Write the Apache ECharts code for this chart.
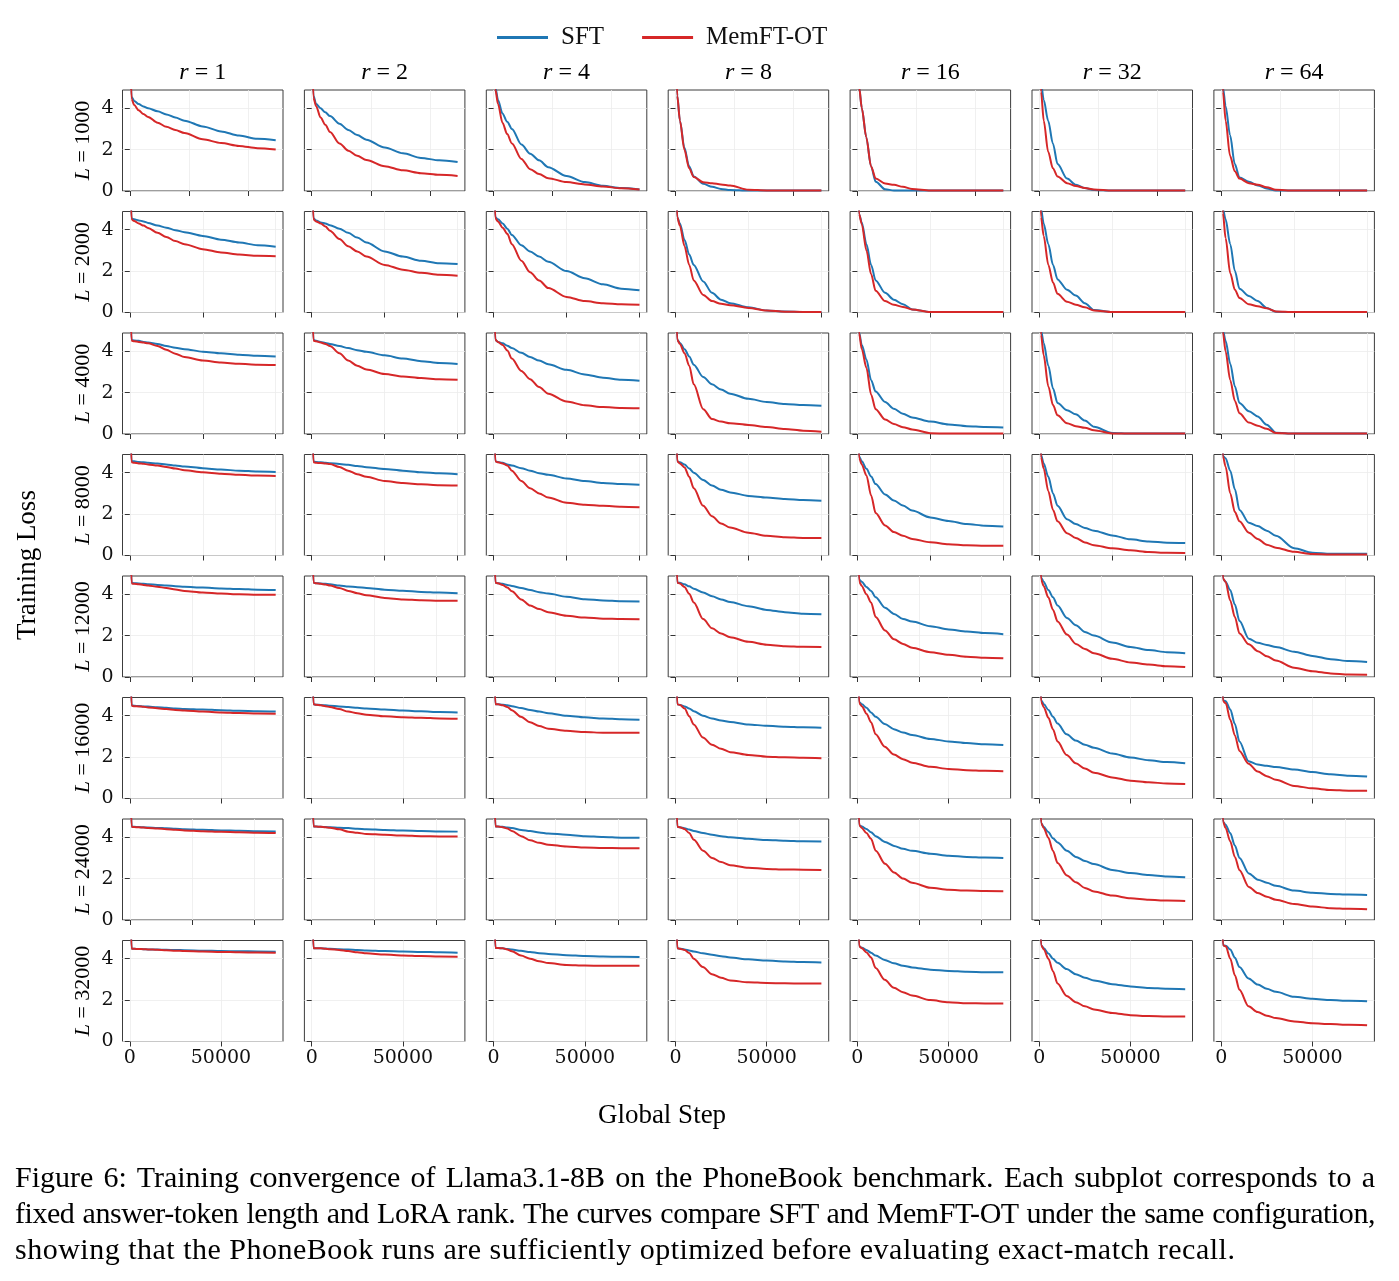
<!DOCTYPE html>
<html><head><meta charset="utf-8">
<script src="https://cdn.jsdelivr.net/npm/echarts@6/dist/echarts.min.js"></script>
<style>
html,body{margin:0;padding:0;background:#fff;}
#chart{position:absolute;left:0;top:0;width:1399px;height:1281px;}
.cap{position:absolute;left:15px;width:1360px;font-family:'Liberation Serif','Times New Roman',serif;font-size:30px;line-height:35.5px;color:#000;white-space:nowrap;}
.j{text-align:justify;text-align-last:justify;}
</style></head><body>
<div id="chart"></div>
<div class="cap j" style="top:1159px">Figure 6: Training convergence of Llama3.1-8B on the PhoneBook benchmark. Each subplot corresponds to a</div>
<div class="cap j" style="top:1195px;letter-spacing:-0.45px;word-spacing:-1px">fixed answer-token length and LoRA rank. The curves compare SFT and MemFT-OT under the same configuration,</div>
<div class="cap" style="top:1231px;letter-spacing:0.5px">showing that the PhoneBook runs are sufficiently optimized before evaluating exact-match recall.</div>
<script>
// ---------------- DATA ----------------
const ranks = ['1', '2', '4', '8', '16', '32', '64'];
const lengths = ['1000', '2000', '4000', '8000', '12000', '16000', '24000', '32000'];
const seriesNames = ['SFT', 'MemFT-OT'];
const yTicks = [0, 2, 4];
const yMax = 4.88;

// global-step sample positions (each row has its own run length)
const stepsA = [0, 600, 1500, 3000, 4600, 6200, 9400, 12400, 15400, 18500, 24700, 30900, 37000, 43200, 49400];
const stepsB = [0, 600, 1500, 3100, 4700, 6250, 9500, 12500, 15600, 18750, 25000, 31250, 37500, 43750, 50000];
const stepsC = [0, 600, 1400, 2900, 4400, 5900, 8900, 11800, 14700, 17600, 23500, 29400, 35250, 41100, 47000];
const stepsD = [0, 1000, 2500, 5000, 7500, 10000, 15000, 20000, 25000, 30000, 40000, 50000, 60000, 70000, 80000];
const xTicksA = [0, 20000, 40000];
const xTicksB = [0, 25000, 50000];
const xTicksC = [0, 20000, 40000];
const xTicksD = [0, 50000];

// rows: L = 1000 ... 32000 ; each row: 7 ranks (r = 1..64)
const sftL1000 = [
 [7.5, 4.55, 4.35, 4.2, 4.08, 4.0, 3.85, 3.7, 3.55, 3.4, 3.12, 2.88, 2.68, 2.52, 2.45],
 [7.5, 4.6, 4.2, 4.0, 3.8, 3.62, 3.25, 2.95, 2.7, 2.48, 2.1, 1.82, 1.6, 1.48, 1.4],
 [7.5, 5.0, 4.4, 3.75, 3.35, 3.0, 2.25, 1.8, 1.48, 1.15, 0.72, 0.43, 0.25, 0.14, 0.07],
 [7.5, 4.6, 3.4, 2.1, 1.2, 0.7, 0.35, 0.2, 0.1, 0.05, 0.02, 0.02, 0.02, 0.02, 0.02],
 [7.5, 5.0, 4.0, 2.6, 1.2, 0.45, 0.08, 0.03, 0.02, 0.02, 0.02, 0.02, 0.02, 0.02, 0.02],
 [7.5, 5.2, 4.4, 3.4, 2.3, 1.3, 0.6, 0.3, 0.14, 0.05, 0.02, 0.02, 0.02, 0.02, 0.02],
 [7.5, 5.0, 4.1, 2.7, 1.3, 0.65, 0.45, 0.27, 0.12, 0.03, 0.02, 0.02, 0.02, 0.02, 0.02]
];
const memL1000 = [
 [7.5, 4.45, 4.15, 3.9, 3.72, 3.58, 3.3, 3.1, 2.95, 2.8, 2.5, 2.32, 2.18, 2.07, 2.0],
 [7.5, 4.5, 4.1, 3.55, 3.2, 2.85, 2.3, 1.95, 1.7, 1.5, 1.2, 1.0, 0.86, 0.78, 0.73],
 [7.5, 4.9, 4.2, 3.3, 2.75, 2.3, 1.55, 1.05, 0.82, 0.62, 0.43, 0.32, 0.22, 0.13, 0.07],
 [7.5, 4.6, 3.4, 2.0, 1.1, 0.68, 0.42, 0.37, 0.32, 0.27, 0.06, 0.03, 0.03, 0.03, 0.03],
 [7.5, 5.0, 4.0, 2.6, 1.2, 0.6, 0.36, 0.3, 0.2, 0.1, 0.03, 0.02, 0.02, 0.02, 0.02],
 [7.5, 4.8, 3.4, 1.9, 1.1, 0.7, 0.38, 0.24, 0.14, 0.07, 0.02, 0.02, 0.02, 0.02, 0.02],
 [7.5, 4.8, 3.4, 1.7, 0.95, 0.6, 0.38, 0.3, 0.18, 0.06, 0.02, 0.02, 0.02, 0.02, 0.02]
];
const sftL2000 = [
 [7.5, 4.55, 4.5, 4.45, 4.4, 4.33, 4.2, 4.1, 3.98, 3.88, 3.7, 3.52, 3.38, 3.25, 3.18],
 [7.5, 4.55, 4.45, 4.35, 4.3, 4.22, 4.05, 3.85, 3.62, 3.38, 2.95, 2.7, 2.5, 2.38, 2.34],
 [7.5, 4.6, 4.5, 4.3, 4.05, 3.75, 3.25, 2.95, 2.7, 2.45, 2.0, 1.65, 1.36, 1.15, 1.07],
 [7.5, 4.6, 4.3, 3.5, 2.8, 2.3, 1.5, 0.95, 0.62, 0.45, 0.25, 0.1, 0.05, 0.03, 0.03],
 [7.5, 4.75, 4.35, 3.3, 2.3, 1.55, 0.95, 0.62, 0.4, 0.15, 0.03, 0.02, 0.02, 0.02, 0.02],
 [7.5, 5.0, 4.3, 3.3, 2.3, 1.6, 1.1, 0.82, 0.45, 0.12, 0.02, 0.02, 0.02, 0.02, 0.02],
 [7.5, 5.0, 4.5, 3.3, 2.0, 1.15, 0.8, 0.55, 0.22, 0.04, 0.02, 0.02, 0.02, 0.02, 0.02]
];
const memL2000 = [
 [7.5, 4.5, 4.42, 4.3, 4.2, 4.08, 3.85, 3.65, 3.45, 3.3, 3.06, 2.9, 2.8, 2.74, 2.72],
 [7.5, 4.5, 4.4, 4.3, 4.15, 3.95, 3.55, 3.2, 2.95, 2.7, 2.3, 2.07, 1.92, 1.82, 1.77],
 [7.5, 4.55, 4.4, 4.1, 3.8, 3.3, 2.5, 1.95, 1.55, 1.18, 0.75, 0.55, 0.45, 0.4, 0.37],
 [7.5, 4.6, 4.2, 3.2, 2.3, 1.55, 0.85, 0.55, 0.42, 0.35, 0.22, 0.1, 0.04, 0.03, 0.03],
 [7.5, 4.75, 4.27, 3.0, 1.85, 1.05, 0.55, 0.37, 0.27, 0.15, 0.02, 0.02, 0.02, 0.02, 0.02],
 [7.5, 4.6, 3.7, 2.3, 1.45, 0.9, 0.52, 0.38, 0.25, 0.1, 0.02, 0.02, 0.02, 0.02, 0.02],
 [7.5, 4.8, 3.6, 1.9, 1.1, 0.7, 0.4, 0.3, 0.2, 0.05, 0.02, 0.02, 0.02, 0.02, 0.02]
];
const sftL4000 = [
 [7.5, 4.55, 4.52, 4.5, 4.45, 4.42, 4.35, 4.25, 4.17, 4.1, 3.98, 3.9, 3.83, 3.78, 3.75],
 [7.5, 4.55, 4.5, 4.45, 4.4, 4.35, 4.25, 4.15, 4.05, 3.97, 3.8, 3.65, 3.52, 3.43, 3.38],
 [7.5, 4.55, 4.45, 4.38, 4.27, 4.15, 3.92, 3.72, 3.55, 3.37, 3.1, 2.88, 2.72, 2.62, 2.57],
 [7.5, 4.55, 4.4, 4.1, 3.75, 3.35, 2.75, 2.4, 2.15, 1.95, 1.7, 1.55, 1.45, 1.4, 1.37],
 [7.5, 4.9, 4.3, 3.6, 2.6, 2.05, 1.55, 1.22, 0.98, 0.8, 0.6, 0.46, 0.38, 0.34, 0.32],
 [7.5, 5.0, 4.4, 3.3, 2.2, 1.5, 1.15, 0.95, 0.65, 0.35, 0.05, 0.02, 0.02, 0.02, 0.02],
 [7.5, 5.0, 4.5, 3.4, 2.3, 1.5, 1.1, 0.85, 0.45, 0.06, 0.02, 0.02, 0.02, 0.02, 0.02]
];
const memL4000 = [
 [7.5, 4.5, 4.48, 4.45, 4.42, 4.38, 4.25, 4.07, 3.88, 3.72, 3.55, 3.45, 3.39, 3.35, 3.33],
 [7.5, 4.5, 4.48, 4.42, 4.35, 4.25, 3.9, 3.55, 3.3, 3.12, 2.9, 2.78, 2.7, 2.65, 2.62],
 [7.5, 4.55, 4.45, 4.3, 4.03, 3.65, 3.05, 2.65, 2.27, 1.95, 1.57, 1.39, 1.3, 1.26, 1.24],
 [7.5, 4.55, 4.35, 3.9, 3.3, 2.4, 1.2, 0.72, 0.6, 0.52, 0.44, 0.34, 0.24, 0.16, 0.11],
 [7.5, 4.85, 4.1, 3.2, 1.9, 1.2, 0.7, 0.48, 0.33, 0.22, 0.04, 0.02, 0.02, 0.02, 0.02],
 [7.5, 4.8, 3.8, 2.3, 1.4, 0.9, 0.52, 0.38, 0.3, 0.18, 0.03, 0.02, 0.02, 0.02, 0.02],
 [7.5, 4.9, 4.0, 2.6, 1.6, 1.0, 0.55, 0.4, 0.25, 0.05, 0.02, 0.02, 0.02, 0.02, 0.02]
];
const sftL8000 = [
 [7.5, 4.55, 4.55, 4.52, 4.5, 4.48, 4.44, 4.4, 4.35, 4.3, 4.22, 4.15, 4.1, 4.06, 4.04],
 [7.5, 4.55, 4.52, 4.5, 4.48, 4.46, 4.42, 4.38, 4.32, 4.27, 4.18, 4.1, 4.02, 3.97, 3.93],
 [7.5, 4.55, 4.52, 4.48, 4.4, 4.35, 4.22, 4.1, 3.98, 3.9, 3.72, 3.6, 3.5, 3.45, 3.42],
 [7.5, 4.55, 4.5, 4.4, 4.2, 4.0, 3.65, 3.38, 3.18, 3.05, 2.88, 2.8, 2.73, 2.68, 2.65],
 [7.5, 4.78, 4.55, 4.19, 3.82, 3.45, 2.95, 2.66, 2.42, 2.17, 1.84, 1.67, 1.52, 1.44, 1.4],
 [7.5, 4.85, 4.45, 3.8, 3.0, 2.4, 1.75, 1.52, 1.33, 1.2, 0.97, 0.78, 0.68, 0.62, 0.6],
 [7.5, 4.8, 4.7, 4.1, 3.2, 2.2, 1.58, 1.42, 1.2, 0.95, 0.35, 0.13, 0.08, 0.08, 0.08]
];
const memL8000 = [
 [7.5, 4.5, 4.48, 4.45, 4.43, 4.4, 4.35, 4.28, 4.2, 4.12, 4.02, 3.95, 3.9, 3.86, 3.84],
 [7.5, 4.5, 4.48, 4.47, 4.45, 4.42, 4.28, 4.1, 3.93, 3.8, 3.6, 3.5, 3.44, 3.4, 3.38],
 [7.5, 4.55, 4.5, 4.45, 4.35, 4.1, 3.6, 3.25, 3.0, 2.8, 2.55, 2.45, 2.4, 2.36, 2.33],
 [7.5, 4.55, 4.45, 4.25, 3.8, 3.25, 2.4, 1.9, 1.55, 1.35, 1.1, 0.95, 0.88, 0.85, 0.84],
 [7.5, 4.7, 4.4, 3.87, 2.9, 2.05, 1.45, 1.13, 0.95, 0.8, 0.64, 0.54, 0.49, 0.47, 0.47],
 [7.5, 4.75, 4.2, 3.1, 2.2, 1.65, 1.08, 0.85, 0.63, 0.5, 0.35, 0.25, 0.17, 0.13, 0.12],
 [7.5, 4.8, 4.3, 3.0, 2.1, 1.65, 1.1, 0.8, 0.52, 0.38, 0.18, 0.07, 0.05, 0.05, 0.05]
];
const sftL12000 = [
 [7.5, 4.55, 4.53, 4.52, 4.5, 4.48, 4.45, 4.42, 4.39, 4.36, 4.32, 4.28, 4.25, 4.22, 4.2],
 [7.5, 4.55, 4.53, 4.52, 4.5, 4.48, 4.42, 4.37, 4.34, 4.3, 4.22, 4.17, 4.11, 4.08, 4.05],
 [7.5, 4.55, 4.53, 4.5, 4.45, 4.4, 4.3, 4.2, 4.1, 4.03, 3.88, 3.76, 3.7, 3.66, 3.65],
 [7.5, 4.55, 4.55, 4.48, 4.38, 4.27, 4.08, 3.9, 3.75, 3.62, 3.42, 3.24, 3.13, 3.06, 3.03],
 [7.5, 4.7, 4.6, 4.35, 4.16, 3.85, 3.35, 3.05, 2.8, 2.68, 2.45, 2.3, 2.2, 2.12, 2.07],
 [7.5, 4.8, 4.6, 4.2, 3.85, 3.45, 2.85, 2.5, 2.18, 2.0, 1.67, 1.45, 1.3, 1.2, 1.15],
 [7.5, 4.75, 4.6, 4.2, 3.5, 2.7, 1.85, 1.65, 1.55, 1.45, 1.22, 1.02, 0.86, 0.77, 0.73]
];
const memL12000 = [
 [7.5, 4.52, 4.5, 4.48, 4.45, 4.42, 4.36, 4.3, 4.23, 4.16, 4.08, 4.03, 4.0, 3.98, 3.97],
 [7.5, 4.55, 4.53, 4.5, 4.47, 4.42, 4.3, 4.16, 4.05, 3.95, 3.82, 3.75, 3.71, 3.69, 3.68],
 [7.5, 4.55, 4.53, 4.45, 4.32, 4.14, 3.75, 3.45, 3.28, 3.13, 2.96, 2.87, 2.82, 2.8, 2.79],
 [7.5, 4.55, 4.52, 4.35, 4.02, 3.6, 2.8, 2.35, 2.1, 1.92, 1.7, 1.56, 1.49, 1.46, 1.45],
 [7.5, 4.6, 4.4, 4.0, 3.6, 2.9, 2.25, 1.82, 1.6, 1.41, 1.2, 1.07, 0.98, 0.93, 0.9],
 [7.5, 4.7, 4.4, 3.85, 3.25, 2.68, 2.05, 1.6, 1.35, 1.15, 0.88, 0.7, 0.6, 0.52, 0.48],
 [7.5, 4.75, 4.6, 3.7, 2.9, 2.1, 1.58, 1.25, 1.0, 0.8, 0.45, 0.28, 0.17, 0.12, 0.11]
];
const sftL16000 = [
 [7.5, 4.5, 4.48, 4.47, 4.45, 4.44, 4.41, 4.38, 4.35, 4.33, 4.3, 4.27, 4.24, 4.22, 4.2],
 [7.5, 4.55, 4.53, 4.52, 4.5, 4.48, 4.45, 4.42, 4.38, 4.35, 4.3, 4.25, 4.21, 4.18, 4.16],
 [7.5, 4.55, 4.55, 4.53, 4.5, 4.46, 4.37, 4.28, 4.2, 4.12, 4.0, 3.92, 3.87, 3.83, 3.8],
 [7.5, 4.55, 4.52, 4.45, 4.35, 4.22, 4.0, 3.87, 3.77, 3.7, 3.58, 3.51, 3.47, 3.44, 3.42],
 [7.5, 4.65, 4.55, 4.38, 4.16, 3.95, 3.6, 3.35, 3.19, 3.07, 2.88, 2.76, 2.68, 2.62, 2.58],
 [7.5, 4.75, 4.55, 4.28, 3.95, 3.62, 3.1, 2.8, 2.6, 2.45, 2.17, 1.98, 1.85, 1.76, 1.7],
 [7.5, 4.75, 4.7, 4.3, 3.6, 2.75, 1.8, 1.64, 1.58, 1.52, 1.4, 1.28, 1.17, 1.1, 1.06]
];
const memL16000 = [
 [7.5, 4.48, 4.46, 4.45, 4.43, 4.4, 4.36, 4.32, 4.28, 4.25, 4.2, 4.16, 4.13, 4.11, 4.1],
 [7.5, 4.55, 4.53, 4.5, 4.46, 4.42, 4.32, 4.2, 4.12, 4.05, 3.97, 3.93, 3.9, 3.87, 3.85],
 [7.5, 4.55, 4.55, 4.5, 4.42, 4.27, 3.95, 3.68, 3.5, 3.37, 3.27, 3.21, 3.18, 3.18, 3.18],
 [7.5, 4.55, 4.52, 4.35, 3.98, 3.58, 2.95, 2.6, 2.4, 2.24, 2.1, 2.02, 1.99, 1.97, 1.95],
 [7.5, 4.6, 4.45, 4.1, 3.68, 3.1, 2.5, 2.12, 1.9, 1.73, 1.53, 1.43, 1.37, 1.34, 1.32],
 [7.5, 4.68, 4.4, 3.9, 3.35, 2.75, 2.1, 1.7, 1.45, 1.25, 1.02, 0.86, 0.78, 0.73, 0.7],
 [7.5, 4.7, 4.6, 3.8, 3.05, 2.3, 1.68, 1.3, 1.08, 0.9, 0.61, 0.49, 0.41, 0.38, 0.37]
];
const sftL24000 = [
 [7.5, 4.5, 4.5, 4.49, 4.48, 4.47, 4.45, 4.43, 4.41, 4.39, 4.36, 4.33, 4.31, 4.29, 4.28],
 [7.5, 4.52, 4.52, 4.5, 4.49, 4.48, 4.46, 4.44, 4.41, 4.39, 4.35, 4.32, 4.3, 4.28, 4.27],
 [7.5, 4.52, 4.52, 4.5, 4.47, 4.44, 4.35, 4.3, 4.23, 4.18, 4.12, 4.05, 4.01, 3.98, 3.97],
 [7.5, 4.5, 4.48, 4.43, 4.37, 4.3, 4.2, 4.12, 4.05, 4.0, 3.92, 3.87, 3.83, 3.8, 3.79],
 [7.5, 4.58, 4.52, 4.4, 4.24, 4.05, 3.77, 3.58, 3.44, 3.34, 3.2, 3.1, 3.05, 3.02, 3.0],
 [7.5, 4.68, 4.5, 4.25, 3.95, 3.75, 3.35, 3.05, 2.85, 2.7, 2.42, 2.27, 2.17, 2.1, 2.06],
 [7.5, 4.75, 4.6, 4.2, 3.6, 3.0, 2.25, 1.95, 1.8, 1.65, 1.42, 1.32, 1.26, 1.23, 1.21]
];
const memL24000 = [
 [7.5, 4.5, 4.49, 4.48, 4.47, 4.45, 4.42, 4.39, 4.36, 4.33, 4.29, 4.26, 4.24, 4.22, 4.2],
 [7.5, 4.52, 4.52, 4.5, 4.48, 4.46, 4.38, 4.27, 4.21, 4.16, 4.12, 4.08, 4.05, 4.04, 4.03],
 [7.5, 4.52, 4.52, 4.48, 4.42, 4.3, 4.05, 3.85, 3.73, 3.64, 3.55, 3.5, 3.48, 3.47, 3.47],
 [7.5, 4.5, 4.48, 4.4, 4.2, 3.88, 3.35, 3.0, 2.8, 2.65, 2.52, 2.47, 2.44, 2.43, 2.42],
 [7.5, 4.58, 4.45, 4.2, 3.92, 3.35, 2.72, 2.3, 2.0, 1.8, 1.56, 1.46, 1.42, 1.4, 1.39],
 [7.5, 4.68, 4.45, 3.98, 3.35, 2.75, 2.15, 1.82, 1.55, 1.38, 1.18, 1.05, 0.98, 0.94, 0.92],
 [7.5, 4.75, 4.45, 3.8, 3.05, 2.4, 1.6, 1.3, 1.12, 0.98, 0.77, 0.65, 0.57, 0.54, 0.52]
];
const sftL32000 = [
 [7.5, 4.48, 4.48, 4.47, 4.46, 4.45, 4.44, 4.43, 4.42, 4.41, 4.39, 4.37, 4.36, 4.35, 4.34],
 [7.5, 4.5, 4.5, 4.5, 4.49, 4.48, 4.46, 4.44, 4.42, 4.4, 4.37, 4.35, 4.33, 4.31, 4.29],
 [7.5, 4.52, 4.52, 4.5, 4.47, 4.44, 4.38, 4.32, 4.27, 4.23, 4.17, 4.13, 4.11, 4.09, 4.08],
 [7.5, 4.5, 4.48, 4.45, 4.4, 4.35, 4.26, 4.19, 4.12, 4.06, 3.97, 3.91, 3.87, 3.84, 3.82],
 [7.5, 4.6, 4.53, 4.42, 4.29, 4.15, 3.94, 3.78, 3.66, 3.58, 3.47, 3.41, 3.37, 3.35, 3.34],
 [7.5, 4.65, 4.5, 4.25, 4.0, 3.8, 3.5, 3.25, 3.08, 2.95, 2.77, 2.66, 2.59, 2.55, 2.53],
 [7.5, 4.65, 4.63, 4.45, 4.05, 3.6, 3.05, 2.75, 2.55, 2.4, 2.16, 2.06, 2.0, 1.97, 1.95]
];
const memL32000 = [
 [7.5, 4.48, 4.48, 4.47, 4.46, 4.45, 4.43, 4.41, 4.39, 4.37, 4.35, 4.33, 4.31, 4.3, 4.29],
 [7.5, 4.5, 4.5, 4.5, 4.48, 4.46, 4.42, 4.37, 4.31, 4.26, 4.2, 4.16, 4.13, 4.11, 4.1],
 [7.5, 4.52, 4.52, 4.5, 4.45, 4.36, 4.15, 4.0, 3.88, 3.79, 3.7, 3.67, 3.66, 3.66, 3.66],
 [7.5, 4.5, 4.48, 4.42, 4.28, 4.0, 3.6, 3.25, 3.08, 2.95, 2.86, 2.83, 2.81, 2.8, 2.8],
 [7.5, 4.6, 4.5, 4.3, 4.06, 3.55, 2.98, 2.6, 2.38, 2.22, 2.0, 1.9, 1.85, 1.84, 1.84],
 [7.5, 4.65, 4.45, 4.0, 3.4, 2.8, 2.2, 1.9, 1.7, 1.55, 1.38, 1.27, 1.23, 1.21, 1.21],
 [7.5, 4.65, 4.6, 4.0, 3.2, 2.5, 1.7, 1.42, 1.25, 1.13, 0.97, 0.88, 0.84, 0.81, 0.79]
];

const sftRows = [sftL1000, sftL2000, sftL4000, sftL8000, sftL12000, sftL16000, sftL24000, sftL32000];
const memRows = [memL1000, memL2000, memL4000, memL8000, memL12000, memL16000, memL24000, memL32000];
const rowSteps = [stepsA, stepsB, stepsB, stepsB, stepsC, stepsD, stepsC, stepsD];
const rowXTicks = [xTicksA, xTicksB, xTicksB, xTicksB, xTicksC, xTicksD, xTicksC, xTicksD];

// ---------------- LAYOUT / STYLE ----------------
const COLORS = ['#1f77b4', '#d62728'];
const G_LEFT = 122.5, G_TOP = 90, COL_PITCH = 181.9, ROW_PITCH = 121.5, G_W = 160.5, G_H = 101;
const SERIF = "'Liberation Serif', 'Times New Roman', serif";
const TICKFONT = "'DejaVu Serif', serif";

const grids = [], xAxes = [], yAxes = [], series = [], graphics = [];
const nRows = lengths.length, nCols = ranks.length;

for (let i = 0; i < nRows; i++) {
  const steps = rowSteps[i];
  const last = steps[steps.length - 1];
  const xmin = -0.05 * last, xmax = 1.05 * last;
  for (let j = 0; j < nCols; j++) {
    const k = i * nCols + j;
    grids.push({
      left: G_LEFT + j * COL_PITCH, top: G_TOP + i * ROW_PITCH, width: G_W, height: G_H,
      show: true, borderColor: '#3c3c3c', borderWidth: 1, backgroundColor: 'transparent', containLabel: false
    });
    const bottomRow = (i === nRows - 1);
    xAxes.push({
      gridIndex: k, type: 'value', min: xmin, max: xmax,
      axisLine: { show: false },
      axisTick: { show: true, length: 5, customValues: rowXTicks[i], lineStyle: { color: '#333', width: 1 } },
      axisLabel: bottomRow ? {
        show: true, customValues: rowXTicks[i], fontFamily: TICKFONT, fontSize: 19, color: '#111', margin: 7,
        formatter: v => String(Math.round(v))
      } : { show: false },
      splitLine: { show: true, lineStyle: { color: '#ececec', width: 0.8 } }
    });
    const firstCol = (j === 0);
    yAxes.push({
      gridIndex: k, type: 'value', min: 0, max: yMax,
      axisLine: { show: false },
      axisTick: { show: true, length: 5, customValues: yTicks, lineStyle: { color: '#333', width: 1 } },
      axisLabel: firstCol ? { show: true, customValues: yTicks, fontFamily: TICKFONT, fontSize: 19, color: '#111', margin: 9 } : { show: false },
      splitLine: { show: true, lineStyle: { color: '#ececec', width: 0.8 } },
      name: firstCol ? '{i|L} = ' + lengths[i] : '',
      nameLocation: 'middle', nameRotate: 90, nameGap: 28,
      nameTextStyle: {
        fontFamily: SERIF, fontSize: 22, color: '#000',
        rich: { i: { fontFamily: SERIF, fontSize: 22, fontStyle: 'italic', color: '#000' } }
      }
    });
    const groups = [sftRows[i][j], memRows[i][j]];
    for (let s = 0; s < 2; s++) {
      series.push({
        type: 'line', name: seriesNames[s], xAxisIndex: k, yAxisIndex: k,
        data: steps.map((x, t) => [x, groups[s][t]]),
        showSymbol: false, symbol: 'none', clip: true, silent: true,
        smooth: 0.3, smoothMonotone: 'x',
        lineStyle: { color: COLORS[s], width: 2 },
        itemStyle: { color: COLORS[s] },
        emphasis: { disabled: true },
        z: 2 + s
      });
    }
  }
}

// column titles r = ...
for (let j = 0; j < nCols; j++) {
  graphics.push({
    type: 'text', x: G_LEFT + j * COL_PITCH + G_W / 2, y: 73,
    style: {
      text: '{i|r} = ' + ranks[j], align: 'center', verticalAlign: 'middle',
      fontFamily: 'Liberation Serif', fontSize: 24, fill: '#000',
      rich: { i: { fontFamily: 'Liberation Serif', fontSize: 24, fontStyle: 'italic', fill: '#000' } }
    }
  });
}
graphics.push({
  type: 'text', x: 662, y: 1116,
  style: { text: 'Global Step', align: 'center', verticalAlign: 'middle', fontFamily: 'Liberation Serif', fontSize: 27, fill: '#000' }
});
graphics.push({
  type: 'text', x: 28, y: 565, rotation: Math.PI / 2,
  style: { text: 'Training Loss', align: 'center', verticalAlign: 'middle', fontFamily: 'Liberation Serif', fontSize: 27, fill: '#000' }
});

const chart = echarts.init(document.getElementById('chart'), null, { renderer: 'canvas' });
chart.setOption({
  animation: false,
  backgroundColor: '#ffffff',
  color: COLORS,
  legend: {
    data: seriesNames.map(n => ({ name: n, icon: 'rect' })),
    left: 492, top: 20, itemWidth: 51, itemHeight: 3, itemGap: 38,
    textStyle: { fontFamily: SERIF, fontSize: 25, color: '#111', padding: [0, 0, 0, 8] },
    selectedMode: false
  },
  grid: grids, xAxis: xAxes, yAxis: yAxes, series: series,
  graphic: graphics
});
</script>
</body></html>
